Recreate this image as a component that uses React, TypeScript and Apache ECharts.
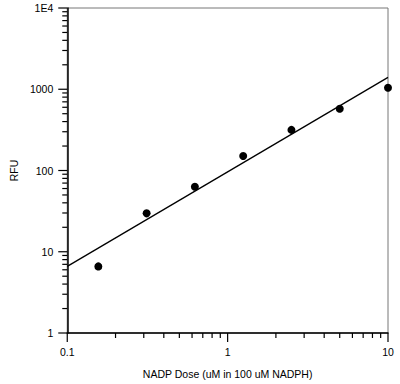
import React, { useEffect, useRef } from "react";
import * as echarts from "echarts";

const doses = [0.15625, 0.3125, 0.625, 1.25, 2.5, 5, 10];
const rfu = [6.6, 29.7, 63, 151, 316, 576, 1043];
const fitX = [0.1, 10];
const fitY = [6.6, 1400];
const xTickLabels = ["0.1", "1", "10"];
const yTickLabels = ["1", "10", "100", "1000", "1E4"];
const xMajor = [0.1, 1, 10];
const yMajor = [1, 10, 100, 1000, 10000];
const minorMultipliers = [2, 3, 4, 5, 6, 7, 8, 9];
const xDecades = [0.1, 1];
const yDecades = [1, 10, 100, 1000];
const xTitle = "NADP Dose (uM in 100 uM NADPH)";
const yTitle = "RFU";

const FONT = "Liberation Sans, Arial, sans-serif";
const MAJOR_LEN = 9;
const MINOR_LEN = 5;

export default function App() {
  const ref = useRef<HTMLDivElement>(null);
  useEffect(() => {
    if (!ref.current) return;
    const chart = echarts.init(ref.current, undefined, { renderer: "svg" });
    const xMinor = xDecades.flatMap((d) => minorMultipliers.map((m) => +(d * m).toPrecision(3)));
    const yMinor = yDecades.flatMap((d) => minorMultipliers.map((m) => +(d * m).toPrecision(3)));
    const xTickData: number[][] = [
      ...xMajor.map((v) => [v, 1, MAJOR_LEN]),
      ...xMinor.map((v) => [v, 1, MINOR_LEN]),
    ];
    const yTickData: number[][] = [
      ...yMajor.map((v) => [0.1, v, MAJOR_LEN]),
      ...yMinor.map((v) => [0.1, v, MINOR_LEN]),
    ];
    const tickSeries = (data: number[][], isY: boolean) => ({
      type: "custom",
      data,
      encode: { x: 0, y: 1 },
      clip: false,
      silent: true,
      z: 5,
      renderItem: (_params: any, api: any) => {
        const p = api.coord([api.value(0), api.value(1)]);
        const len = api.value(2);
        const shape = isY
          ? { x1: p[0] - len, y1: p[1], x2: p[0], y2: p[1] }
          : { x1: p[0], y1: p[1], x2: p[0], y2: p[1] + len };
        return {
          type: "line",
          shape,
          style: { stroke: "#000", lineWidth: 1.2 },
        };
      },
    });
    const labelStyle = { color: "#000", fontSize: 10.5, fontFamily: FONT };
    chart.setOption({
      animation: false,
      backgroundColor: "#fff",
      grid: {
        left: 62,
        top: 8,
        right: 12,
        bottom: 50,
        show: true,
        borderColor: "#777",
        borderWidth: 1,
        containLabel: false,
      },
      xAxis: {
        type: "log",
        logBase: 10,
        min: 0.1,
        max: 10,
        position: "bottom",
        name: xTitle,
        nameLocation: "middle",
        nameGap: 35,
        nameTextStyle: labelStyle,
        axisLine: { show: true, onZero: false, lineStyle: { color: "#000", width: 1.5 } },
        axisTick: { show: false },
        axisLabel: {
          ...labelStyle,
          margin: 13,
          formatter: (v: number) => xTickLabels[Math.round(Math.log10(v)) + 1] ?? String(v),
        },
        splitLine: { show: false },
      },
      yAxis: {
        type: "log",
        logBase: 10,
        min: 1,
        max: 10000,
        position: "left",
        name: yTitle,
        nameLocation: "middle",
        nameGap: 48,
        nameRotate: 90,
        nameTextStyle: labelStyle,
        axisLine: { show: true, onZero: false, lineStyle: { color: "#000", width: 1.5 } },
        axisTick: { show: false },
        axisLabel: {
          ...labelStyle,
          margin: 14,
          formatter: (v: number) => yTickLabels[Math.round(Math.log10(v))] ?? String(v),
        },
        splitLine: { show: false },
      },
      series: [
        tickSeries(xTickData, false),
        tickSeries(yTickData, true),
        {
          type: "line",
          data: fitX.map((x, i) => [x, fitY[i]]),
          showSymbol: false,
          symbol: "none",
          lineStyle: { color: "#000", width: 1.3 },
          z: 2,
        },
        {
          type: "scatter",
          data: doses.map((x, i) => [x, rfu[i]]),
          symbol: "circle",
          symbolSize: 8,
          itemStyle: { color: "#000", opacity: 1 },
          clip: false,
          z: 3,
        },
      ],
    });
    return () => chart.dispose();
  }, []);
  return (
    <div
      ref={ref}
      style={{ position: "fixed", left: 0, top: 0, width: 400, height: 384, background: "#fff" }}
    />
  );
}
